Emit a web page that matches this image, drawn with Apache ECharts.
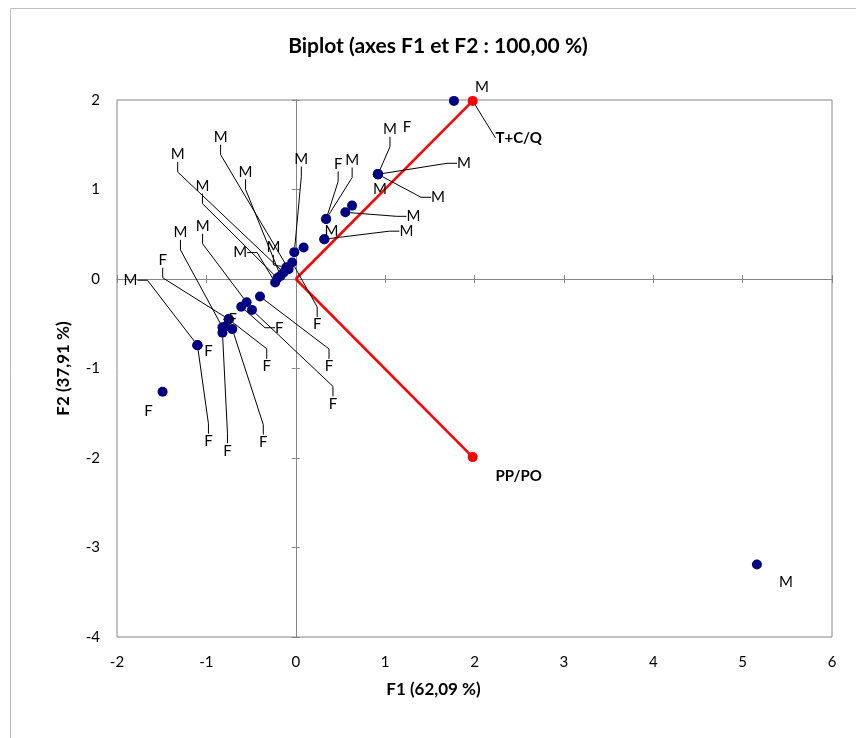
<!DOCTYPE html>
<html>
<head>
<meta charset="utf-8">
<title>Biplot</title>
<script src="https://cdn.jsdelivr.net/npm/echarts@6/dist/echarts.min.js"></script>
<style>
  html, body { margin: 0; padding: 0; background: #fff; }
  #chart { width: 856px; height: 738px; }
</style>
</head>
<body>
<div id="chart"></div>
<script>
// observations (F1, F2 coordinates and class label), '' = label not readable
const obsF1 = [1.77, 0.92, 0.92, 0.92, 0.92, 0.92, 0.34, 0.34, 0.555, 0.63, 0.32, 0.32, -0.016, 0.088,
  -0.04, -0.08, -0.135, -0.17, -0.205, -0.23, -0.105, -0.40, -0.55, -0.61, -0.49, -0.75, -0.75, -0.75,
  -0.82, -0.82, -0.71, -1.10, -1.10, -1.10, -1.49, 5.16, -0.785];
const obsF2 = [1.99, 1.17, 1.17, 1.17, 1.17, 1.17, 0.67, 0.67, 0.745, 0.82, 0.445, 0.445, 0.30, 0.352,
  0.185, 0.11, 0.073, 0.035, 0.01, -0.04, 0.13, -0.195, -0.26, -0.31, -0.345, -0.45, -0.45, -0.45,
  -0.54, -0.60, -0.56, -0.74, -0.74, -0.74, -1.26, -3.19, -0.53];
const obsClass = ["M", "M", "F", "M", "M", "M", "F", "M", "M", "", "M", "M", "M", "",
  "F", "M", "M", "M", "M", "M", "M", "F", "M", "F", "F", "F", "F", "F",
  "M", "F", "F", "M", "F", "F", "F", "M", ""];

// variables (red vectors)
const varNames = ["T+C/Q", "PP/PO"];
const varF1 = [1.98, 1.98];
const varF2 = [1.99, -1.99];

// label placement (pixel offset from the point) and leader line flag
const obsLabelShift = [[28, -14], [12, -45], [29, -47], [86, -11], [2, 15], [60, 23], [12, -55], [26, -59],
  [68, 4], null, [7, -8], [82, -8], [7, -93], null,
  [25, 62], [-68, -132], [-106, -118], [-35, -104], [-75, -92], [-35, -30], [-13, -20],
  [69, 70], [-44, -76], [38, 21], [81, 94], [-66, -59], [4, 0], [38, 47],
  [-42, -95], [5, 118], [31, 113], [-67, -65], [11, 6], [11, 96], [-14, 19], [29, 18], null];
const obsLeader = [0, 1, 0, 1, 0, 1, 1, 1, 1, 0, 0, 1, 1, 0,
  1, 1, 1, 1, 1, 1, 1, 1, 1, 1, 1, 1, 0, 1,
  1, 1, 1, 1, 0, 1, 0, 0, 0];
const varLabelShift = [[46, 37], [46, 19]];
const varLeader = [1, 0];

const FONT = "Lato, 'Open Sans', sans-serif";
const AXIS_GREY = "#868686";

function shiftLayout(shifts) {
  return function (params) {
    const s = shifts[params.dataIndex];
    if (!s) return {};
    return {
      x: params.rect.x + params.rect.width / 2 + s[0],
      y: params.rect.y + params.rect.height / 2 + s[1],
      align: "center",
      verticalAlign: "middle"
    };
  };
}

const obsData = obsF1.map((x, i) => ({
  value: [x, obsF2[i]],
  name: obsClass[i],
  label: { show: !!obsLabelShift[i] && obsClass[i] !== "" },
  labelLine: { show: !!obsLeader[i] }
}));

const varSeries = varNames.map((name, i) => ({
  type: "line",
  name: name,
  z: 3,
  data: [
    { value: [0, 0], symbol: "none", label: { show: false } },
    { value: [varF1[i], varF2[i]], labelLine: { show: !!varLeader[i] } }
  ],
  symbol: "circle",
  symbolSize: 10,
  lineStyle: { color: "#ff0000", width: 2.5 },
  itemStyle: { color: "#ff0000", opacity: 1 },
  label: {
    show: true,
    formatter: name,
    fontFamily: FONT,
    fontWeight: "bold",
    fontSize: 15,
    color: "#000"
  },
  labelLine: { show: true, length2: 0, lineStyle: { color: "#000", width: 1 } },
  labelLayout: (params) => shiftLayout([null, varLabelShift[i]])(params)
}));

function zeroAxis(extra) {
  return Object.assign({
    type: "value",
    axisLabel: { show: false },
    splitLine: { show: false },
    axisTick: { show: true, length: 4, lineStyle: { color: AXIS_GREY } }
  }, extra);
}

const chart = echarts.init(document.getElementById("chart"));

chart.setOption({
  animation: false,
  backgroundColor: "#fff",
  graphic: [{
    type: "rect",
    left: 8,
    top: 6,
    shape: { width: 900, height: 800 },
    style: { fill: null, stroke: "#bfbfbf", lineWidth: 1 },
    silent: true
  }],
  title: {
    text: "Biplot (axes F1 et F2 : 100,00 %)",
    left: 433,
    top: 31,
    textAlign: "center",
    textStyle: { fontFamily: FONT, fontSize: 21, fontWeight: "bold", color: "#000" }
  },
  grid: {
    left: 117,
    right: 24,
    top: 100,
    bottom: 101,
    show: true,
    borderColor: AXIS_GREY,
    borderWidth: 1
  },
  xAxis: [
    {
      type: "value", min: -2, max: 6, interval: 1, position: "bottom",
      axisLine: { show: false, onZero: false },
      axisTick: { show: false },
      splitLine: { show: false },
      axisLabel: { margin: 18, fontFamily: FONT, fontSize: 15, color: "#000" },
      name: "F1 (62,09 %)",
      nameLocation: "middle",
      nameGap: 44,
      nameTextStyle: { fontFamily: FONT, fontSize: 17, fontWeight: "bold", color: "#000", padding: [0, 82, 0, 0] }
    },
    zeroAxis({ min: -2, max: 6, interval: 1, position: "bottom",
      axisLine: { onZero: true, onZeroAxisIndex: 0, lineStyle: { color: AXIS_GREY } } }),
    zeroAxis({ min: -2, max: 6, interval: 1, position: "bottom",
      axisLine: { onZero: true, onZeroAxisIndex: 1, lineStyle: { color: AXIS_GREY } },
      axisTick: { show: true, inside: true, length: 4, lineStyle: { color: AXIS_GREY } } })
  ],
  yAxis: [
    {
      type: "value", min: -4, max: 2, interval: 1, position: "left",
      axisLine: { show: false, onZero: false },
      axisTick: { show: false },
      splitLine: { show: false },
      axisLabel: { margin: 17, fontFamily: FONT, fontSize: 15, color: "#000" },
      name: "F2 (37,91 %)",
      nameLocation: "middle",
      nameGap: 45,
      nameTextStyle: { fontFamily: FONT, fontSize: 17, fontWeight: "bold", color: "#000" }
    },
    zeroAxis({ min: -4, max: 2, interval: 1, position: "left",
      axisLine: { onZero: true, onZeroAxisIndex: 0, lineStyle: { color: AXIS_GREY } } }),
    zeroAxis({ min: -4, max: 2, interval: 1, position: "left",
      axisLine: { onZero: true, onZeroAxisIndex: 1, lineStyle: { color: AXIS_GREY } },
      axisTick: { show: true, inside: true, length: 4, lineStyle: { color: AXIS_GREY } } })
  ],
  series: [
    {
      type: "scatter",
      name: "Observations",
      z: 4,
      data: obsData,
      symbolSize: 10,
      itemStyle: { color: "#000080", opacity: 1 },
      label: {
        show: true,
        formatter: (p) => p.name,
        fontFamily: FONT,
        fontSize: 15,
        color: "#000"
      },
      labelLine: { show: true, length2: 10, lineStyle: { color: "#000", width: 1 } },
      labelLayout: shiftLayout(obsLabelShift)
    }
  ].concat(varSeries)
});
</script>
</body>
</html>
